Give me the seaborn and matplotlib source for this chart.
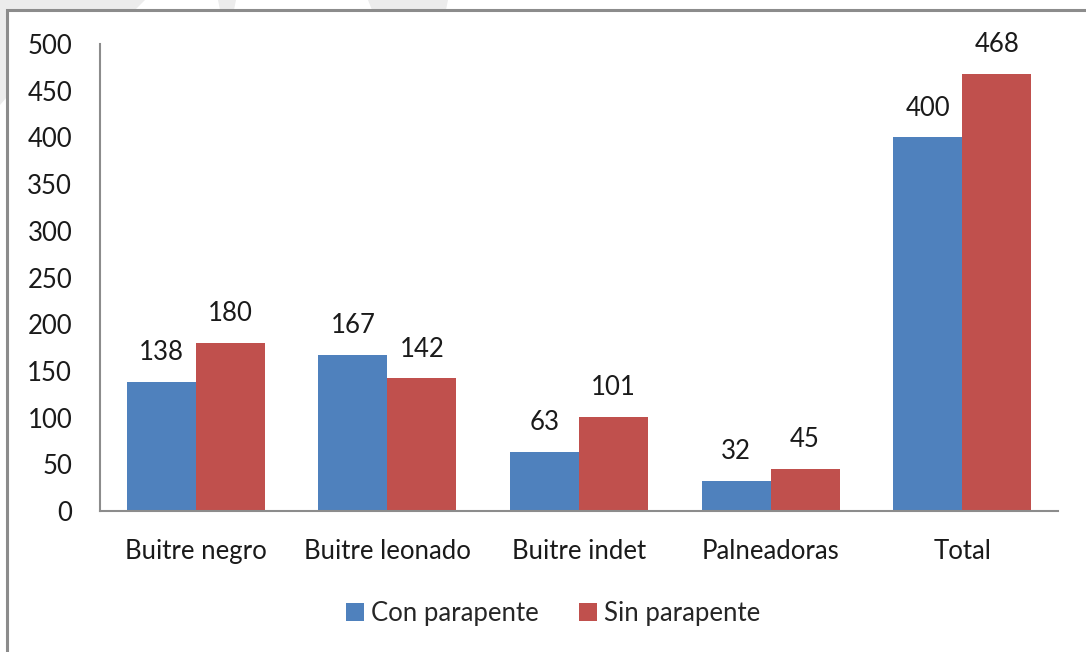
import matplotlib
matplotlib.use("Agg")
import matplotlib.pyplot as plt
import seaborn as sns
import pandas as pd
from matplotlib.patches import Rectangle, Polygon

categories = ["Buitre negro", "Buitre leonado", "Buitre indet", "Palneadoras", "Total"]
con_parapente = [138, 167, 63, 32, 400]
sin_parapente = [180, 142, 101, 45, 468]
series_names = ["Con parapente", "Sin parapente"]
colors = ["#4F81BD", "#C0504D"]

df = pd.DataFrame({
    "categoria": categories * 2,
    "valor": con_parapente + sin_parapente,
    "serie": [series_names[0]] * len(categories) + [series_names[1]] * len(categories),
})

sns.set_theme(style="white")
plt.rcParams["font.family"] = ["Lato", "DejaVu Sans"]

FS = 18.5
TXT = "#1a1a1a"
W, H = 1086, 652

fig = plt.figure(figsize=(W / 100, H / 100), dpi=100)
fig.patch.set_facecolor("white")


def px(x, y):
    return (x / W, 1 - y / H)


# faint page shapes visible around the chart frame
shade = "#ececec"
for poly in ([(0, 0), (145, 0), (135, 10), (0, 10)],
             [(218, 0), (236, 0), (234, 10), (220, 10)],
             [(368, 0), (448, 0), (446, 10), (372, 10)],
             [(0, 0), (7, 0), (7, 97), (0, 105)]):
    fig.patches.append(Polygon([px(*p) for p in poly], closed=True,
                               transform=fig.transFigure, facecolor=shade,
                               edgecolor="none", zorder=-3))

# chart frame
fig.patches.append(Rectangle((7 / W, -0.05), 1.1, 1 - 10 / H + 0.05,
                             transform=fig.transFigure, facecolor="white",
                             edgecolor="#8c8c8c", linewidth=2.2, zorder=-2))

ax = fig.add_axes([100 / W, 1 - 511 / H, 958 / W, 467 / H])
ax.patch.set_alpha(0)
sns.barplot(data=df, x="categoria", y="valor", hue="serie", palette=colors,
            width=0.72, saturation=1, linewidth=0, ax=ax, legend=True)

ax.set_ylim(0, 500)
ax.set_yticks(range(0, 501, 50))
ax.set_xlabel("")
ax.set_ylabel("")
ax.tick_params(axis="both", length=0, labelsize=FS, colors=TXT)
ax.tick_params(axis="x", pad=20)
ax.tick_params(axis="y", pad=20)
for side in ("top", "right"):
    ax.spines[side].set_visible(False)
for side in ("left", "bottom"):
    ax.spines[side].set_color("#8c8c8c")
    ax.spines[side].set_linewidth(1.5)

for cont in ax.containers:
    ax.bar_label(cont, fmt="%d", padding=12, fontsize=FS, color=TXT)

ax.legend(loc="center", bbox_to_anchor=(0.473, -0.22), ncol=2, frameon=False,
          fontsize=FS, handlelength=0.7, handleheight=0.7,
          handletextpad=0.25, columnspacing=1.6)

fig.savefig("out.png", dpi=100)
